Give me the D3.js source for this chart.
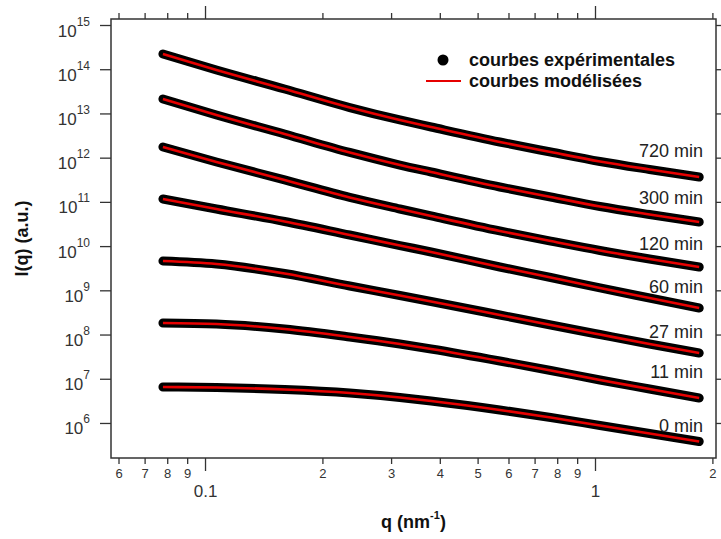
<!DOCTYPE html>
<html>
<head>
<meta charset="utf-8">
<script src="https://cdn.jsdelivr.net/npm/d3@7"></script>
<style>
  html, body { margin: 0; padding: 0; background: #fff; }
  svg { display: block; font-family: Arial, "Liberation Sans", sans-serif; }
</style>
</head>
<body>
<svg id="chart" width="721" height="539"></svg>
<script>
// ---------------- data ----------------
const qValues = [0.078, 0.107, 0.16, 0.235, 0.316, 0.38, 0.57, 0.77, 1.03, 1.38, 1.85];

const seriesLabels = ["720 min", "300 min", "120 min", "60 min", "27 min", "11 min", "0 min"];

const I_720 = [2.21e14, 9.6e13, 3.57e13, 1.36e13, 7.11e12, 4.94e12, 2.26e12, 1.34e12, 8.19e11, 5.4e11, 3.65e11];
const I_300 = [2.12e13, 9.22e12, 3.43e12, 1.31e12, 6.82e11, 4.74e11, 2.17e11, 1.29e11, 7.86e10, 5.18e10, 3.51e10];
const I_120 = [1.74e12, 7.98e11, 3.13e11, 1.26e11, 6.9e10, 4.8e10, 2.2e10, 1.3e10, 7.96e9, 5.11e9, 3.37e9];
const I_60  = [1.16e11, 6.9e10, 3.6e10, 1.78e10, 1.03e10, 7.36e9, 3.37e9, 1.95e9, 1.13e9, 6.7e8, 3.98e8];
const I_27  = [4.6e9, 3.94e9, 2.4e9, 1.25e9, 7.64e8, 5.59e8, 2.77e8, 1.64e8, 1.0e8, 6.11e7, 3.82e7];
const I_11  = [1.82e8, 1.73e8, 1.33e8, 8.8e7, 6.11e7, 4.71e7, 2.52e7, 1.54e7, 9.38e6, 5.87e6, 3.67e6];
const I_0   = [6.51e6, 6.34e6, 5.72e6, 4.76e6, 3.77e6, 3.14e6, 1.97e6, 1.33e6, 8.77e5, 5.78e5, 3.81e5];

const experimental = [I_720, I_300, I_120, I_60, I_27, I_11, I_0];
const modelled     = [I_720, I_300, I_120, I_60, I_27, I_11, I_0];

const yTickValues = [1e6, 1e7, 1e8, 1e9, 1e10, 1e11, 1e12, 1e13, 1e14, 1e15];
const xMajorTicks = [0.1, 1];
const xMinorTicks = [0.06, 0.07, 0.08, 0.09, 0.2, 0.3, 0.4, 0.5, 0.6, 0.7, 0.8, 0.9, 2];

const legendLabels = ["courbes expérimentales", "courbes modélisées"];

// ---------------- layout ----------------
const W = 721, H = 539;
const m = { top: 19, right: 5, bottom: 81, left: 111 };
const svg = d3.select("#chart");

const x = d3.scaleLog().domain([0.0574, 2.043]).range([m.left, W - m.right]);
const y = d3.scaleLog().domain([1.614e5, 1.367e15]).range([H - m.bottom, m.top]);

const axisColor = "#333";
const labelOffsets = [20, 18, 17, 15, 15, 20, 10];

// ---------------- curves ----------------
const line = d3.line()
  .x((d, i) => x(qValues[i]))
  .y(d => y(d))
  .curve(d3.curveMonotoneX);

const gExp = svg.append("g");
experimental.forEach(s => {
  gExp.append("path")
    .attr("d", line(s))
    .attr("fill", "none")
    .attr("stroke", "#000")
    .attr("stroke-width", 9)
    .attr("stroke-linecap", "round")
    .attr("stroke-linejoin", "round");
});
const gMod = svg.append("g");
modelled.forEach(s => {
  gMod.append("path")
    .attr("d", line(s))
    .attr("fill", "none")
    .attr("stroke", "#e60000")
    .attr("stroke-width", 2.6);
});

// curve labels
experimental.forEach((s, k) => {
  svg.append("text")
    .attr("x", 703)
    .attr("y", y(s[s.length - 1]) - labelOffsets[k])
    .attr("text-anchor", "end")
    .attr("font-size", 18)
    .attr("fill", "#222")
    .text(seriesLabels[k]);
});

// ---------------- axes ----------------
function styleAxis(g) {
  g.selectAll(".domain").remove();
  g.selectAll(".tick line").attr("stroke", axisColor).attr("stroke-width", 1.3);
}

// left
svg.append("g").attr("transform", `translate(${m.left},0)`)
  .call(d3.axisLeft(y).tickValues(yTickValues).tickSize(11).tickSizeOuter(0).tickFormat(""))
  .call(styleAxis);
yTickValues.forEach(v => {
  const t = svg.append("text")
    .attr("x", 90)
    .attr("y", y(v) + 11.5)
    .attr("text-anchor", "end")
    .attr("fill", "#333");
  t.append("tspan").attr("font-size", 17).text("10");
  t.append("tspan").attr("font-size", 12).attr("dy", -11).text(String(Math.round(Math.log10(v))));
});

// right
svg.append("g").attr("transform", `translate(${W - m.right},0)`)
  .call(d3.axisRight(y).tickValues(yTickValues).tickSize(10).tickSizeOuter(0).tickFormat(""))
  .call(styleAxis);

// bottom
const yB = H - m.bottom;
const gBMinor = svg.append("g").attr("transform", `translate(0,${yB})`)
  .call(d3.axisBottom(x).tickValues(xMinorTicks).tickSize(6).tickSizeOuter(0)
    .tickFormat(d => String(d < 1 ? Math.round(d * (d < 0.1 ? 100 : 10)) : d)))
  .call(styleAxis);
gBMinor.selectAll(".tick text").attr("font-size", 13).attr("fill", "#333")
  .attr("font-family", "Arial, 'Liberation Sans', sans-serif").attr("y", 11).attr("dy", "0.71em");

const gBMajor = svg.append("g").attr("transform", `translate(0,${yB})`)
  .call(d3.axisBottom(x).tickValues(xMajorTicks).tickSize(13).tickSizeOuter(0)
    .tickFormat(d => d === 1 ? "1" : "0.1"))
  .call(styleAxis);
gBMajor.selectAll(".tick text").attr("font-size", 17).attr("fill", "#333")
  .attr("font-family", "Arial, 'Liberation Sans', sans-serif").attr("y", 27).attr("dy", "0.71em");

// top
svg.append("g").attr("transform", `translate(0,${m.top})`)
  .call(d3.axisTop(x).tickValues(xMinorTicks).tickSize(6).tickSizeOuter(0).tickFormat(""))
  .call(styleAxis);
svg.append("g").attr("transform", `translate(0,${m.top})`)
  .call(d3.axisTop(x).tickValues(xMajorTicks).tickSize(13).tickSizeOuter(0).tickFormat(""))
  .call(styleAxis);

// frame
svg.append("rect")
  .attr("x", m.left).attr("y", m.top)
  .attr("width", W - m.right - m.left).attr("height", H - m.bottom - m.top)
  .attr("fill", "none").attr("stroke", axisColor).attr("stroke-width", 1.5);

// ---------------- titles ----------------
const xt = svg.append("text")
  .attr("x", (m.left + W - m.right) / 2)
  .attr("y", 528)
  .attr("text-anchor", "middle")
  .attr("font-size", 18).attr("font-weight", "bold").attr("fill", "#111");
xt.append("tspan").text("q (nm");
xt.append("tspan").attr("font-size", 11).attr("dy", -9).text("-1");
xt.append("tspan").attr("dy", 9).text(")");

svg.append("text")
  .attr("transform", `translate(28,${(m.top + H - m.bottom) / 2}) rotate(-90)`)
  .attr("text-anchor", "middle")
  .attr("font-size", 18).attr("font-weight", "bold").attr("fill", "#111")
  .text("I(q) (a.u.)");

// ---------------- legend ----------------
const lg = svg.append("g");
lg.append("circle").attr("cx", 443).attr("cy", 60).attr("r", 5.5).attr("fill", "#000");
lg.append("line").attr("x1", 426).attr("x2", 461).attr("y1", 81).attr("y2", 81)
  .attr("stroke", "#e60000").attr("stroke-width", 2.2);
lg.append("text").attr("x", 469).attr("y", 66).attr("font-size", 18).attr("font-weight", "bold")
  .attr("fill", "#111").text(legendLabels[0]);
lg.append("text").attr("x", 469).attr("y", 87).attr("font-size", 18).attr("font-weight", "bold")
  .attr("fill", "#111").text(legendLabels[1]);
</script>
</body>
</html>
